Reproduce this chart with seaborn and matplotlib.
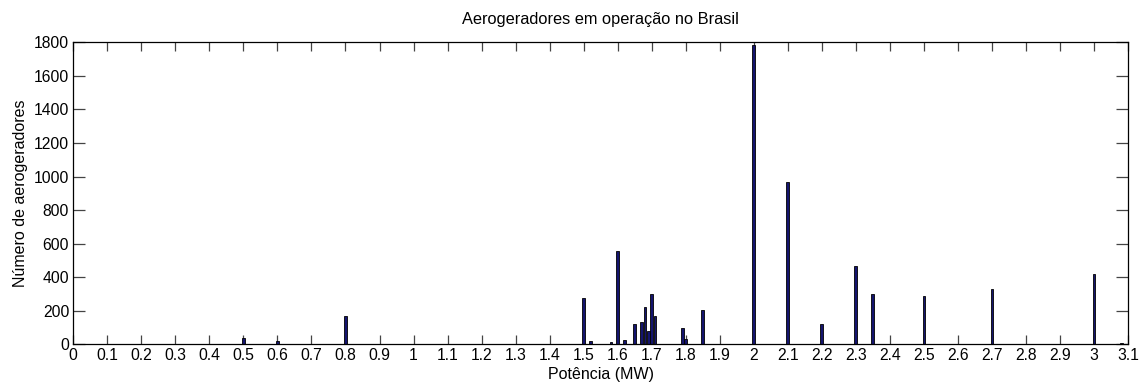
import matplotlib
matplotlib.use("Agg")
import matplotlib.pyplot as plt
import numpy as np
import pandas as pd
import seaborn as sns

# Rated power of each turbine model (MW) and number of units in operation
potencia = [0.5, 0.6, 0.8, 1.5, 1.52, 1.58, 1.6, 1.62, 1.65, 1.67, 1.68, 1.69,
            1.7, 1.71, 1.79, 1.8, 1.85, 2.0, 2.1, 2.2, 2.3, 2.35, 2.5, 2.7,
            3.0, 3.08]
quantidade = [38, 20, 167, 278, 20, 14, 556, 26, 119, 135, 222, 77,
              302, 169, 99, 32, 207, 1782, 968, 121, 467, 302, 288, 328,
              422, 9]

xticks = np.round(np.arange(0, 3.1001, 0.1), 1)
xtick_labels = [f"{v:g}" for v in xticks]
yticks = list(range(0, 1801, 200))

df = pd.DataFrame({"potencia": potencia, "quantidade": quantidade})

sns.set_theme(style="ticks")
plt.rcParams["font.family"] = ["Liberation Sans", "DejaVu Sans"]
plt.rcParams["text.color"] = "black"
plt.rcParams["axes.labelcolor"] = "black"

fig = plt.figure(figsize=(11.4, 3.83), dpi=100)
ax = fig.add_axes([0.0643, 0.101, 0.9252, 0.7886])

sns.barplot(data=df, x="potencia", y="quantidade", native_scale=True,
            width=0.8, color="#14146e", saturation=1, edgecolor="black",
            linewidth=0.6, ax=ax)

ax.set_xlim(0, 3.1)
ax.set_ylim(0, 1800)
ax.set_xticks(xticks)
ax.set_xticklabels(xtick_labels)
ax.set_yticks(yticks)

for s in ax.spines.values():
    s.set_visible(True)
    s.set_color("black")
    s.set_linewidth(0.9)

ax.tick_params(axis="x", direction="in", top=True, bottom=True, length=6.5,
               width=0.9, color="#444444", labelsize=11.3, labelcolor="black", pad=2.5)
ax.tick_params(axis="y", direction="in", left=True, right=True, length=8.5,
               width=0.9, color="#444444", labelsize=11.3, labelcolor="black", pad=3)

ax.set_title("Aerogeradores em operação no Brasil", fontsize=11.8, pad=13)
ax.set_xlabel("Potência (MW)", fontsize=11.5, labelpad=3)
ax.set_ylabel("Número de aerogeradores", fontsize=11.5, labelpad=4)

fig.savefig("out.png", dpi=100)
